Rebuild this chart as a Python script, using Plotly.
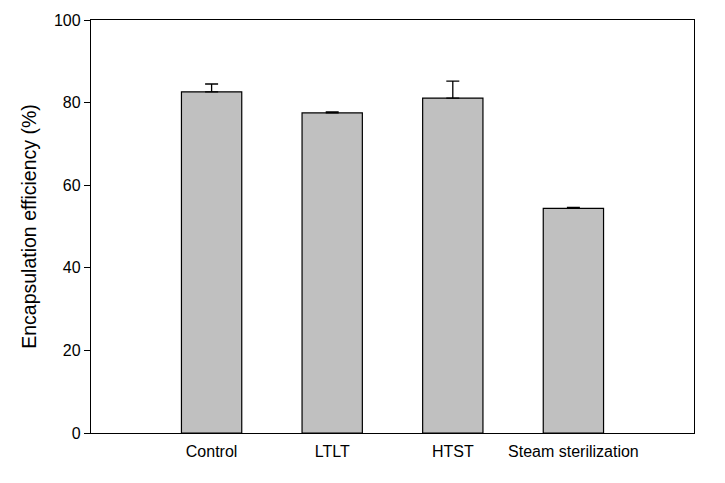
import plotly.graph_objects as go

categories = ["Control", "LTLT", "HTST", "Steam sterilization"]
efficiency = [82.6, 77.5, 81.1, 54.4]
errors = [1.9, 0.25, 4.1, 0.25]
y_ticks = [0, 20, 40, 60, 80, 100]

FONT = "Arial, Liberation Sans, sans-serif"

fig = go.Figure()
fig.add_trace(go.Bar(
    x=categories,
    y=efficiency,
    width=0.5,
    marker=dict(color="#C0C0C0", line=dict(color="black", width=1.2)),
    error_y=dict(type="data", array=errors, arrayminus=[0]*len(errors),
                 symmetric=False, color="black", thickness=1.3, width=6.5),
))

fig.update_layout(
    width=725, height=483,
    margin=dict(l=91, r=31, t=18, b=50),
    plot_bgcolor="white", paper_bgcolor="white",
    showlegend=False,
    font=dict(family=FONT, color="black", size=16),
)
fig.update_xaxes(
    type="category", range=[-1, 4],
    showline=True, linecolor="black", linewidth=1.3, mirror=True,
    ticks="", showgrid=False, zeroline=False,
    tickfont=dict(family=FONT, size=16, color="black"),
    ticklabelstandoff=4,
)
fig.update_yaxes(
    range=[0, 100], tickvals=y_ticks,
    showline=True, linecolor="black", linewidth=1.3, mirror=True,
    ticks="outside", ticklen=6, tickwidth=1.2, tickcolor="black",
    showgrid=False, zeroline=False,
    tickfont=dict(family=FONT, size=16, color="black"),
    title=dict(text="Encapsulation efficiency (%)", font=dict(family=FONT, size=19.5, color="black"), standoff=12),
)

fig.write_html("out.html")
